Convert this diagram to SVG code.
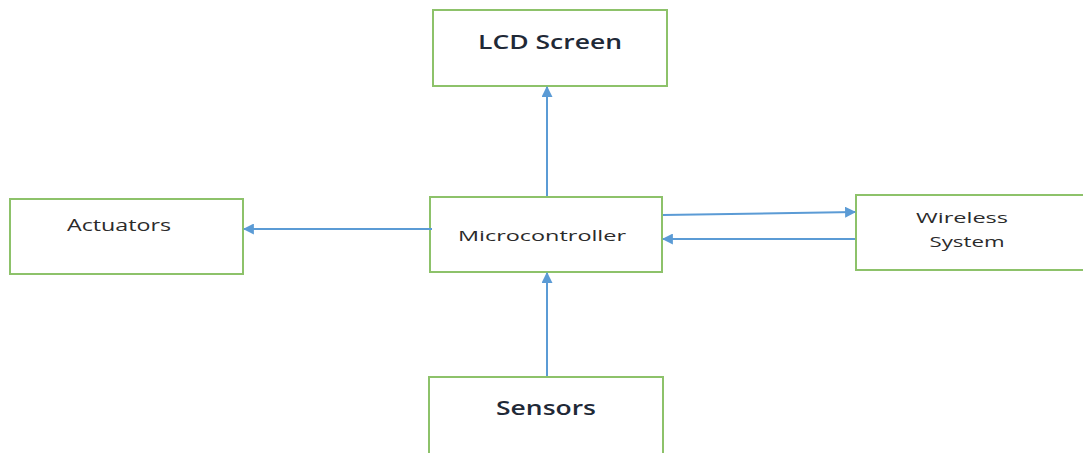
<svg xmlns="http://www.w3.org/2000/svg" width="1083" height="453" viewBox="0 0 1083 453">
  <style>
    .box { fill: #ffffff; stroke: #8dc26a; stroke-width: 2; }
    .lbl { font-family: "Open Sans", "Liberation Sans", sans-serif; fill: #2b2b2b; text-anchor: middle; }
    .big { font-size: 20px; font-weight: 600; fill: #1f2937; }
    .mid { font-size: 16px; }
    .sml { font-size: 15px; }
    .wire { stroke: #5b9bd5; stroke-width: 2; fill: none; marker-end: url(#arr); }
  </style>
  <defs>
    <marker id="arr" viewBox="0 0 10 10" refX="9" refY="5" markerWidth="11" markerHeight="11" markerUnits="userSpaceOnUse" orient="auto">
      <path d="M0,0 L10,5 L0,10 z" fill="#5b9bd5"/>
    </marker>
  </defs>
  <rect width="1083" height="453" fill="#ffffff"/>

  <g id="lcd">
    <rect class="box" x="433" y="10" width="234" height="76"/>
    <text class="lbl big" x="550" y="49" textLength="144" lengthAdjust="spacingAndGlyphs">LCD Screen</text>
  </g>
  <g id="actuators">
    <rect class="box" x="10" y="199" width="233" height="75"/>
    <text class="lbl mid" x="119" y="231" textLength="104" lengthAdjust="spacingAndGlyphs">Actuators</text>
  </g>
  <g id="microcontroller">
    <rect class="box" x="430" y="197" width="232" height="75"/>
    <text class="lbl sml" x="542" y="241" textLength="168" lengthAdjust="spacingAndGlyphs">Microcontroller</text>
  </g>
  <g id="wireless">
    <rect class="box" x="856" y="195" width="235" height="75"/>
    <text class="lbl sml" x="962" y="223" textLength="92" lengthAdjust="spacingAndGlyphs">Wireless</text>
    <text class="lbl sml" x="967" y="247" textLength="75" lengthAdjust="spacingAndGlyphs">System</text>
  </g>
  <g id="sensors">
    <rect class="box" x="429" y="377" width="234" height="82"/>
    <text class="lbl big" x="546" y="415" textLength="100" lengthAdjust="spacingAndGlyphs">Sensors</text>
  </g>

  <g id="connectors">
    <line class="wire" x1="547" y1="196" x2="547" y2="87"/>
    <line class="wire" x1="547" y1="376" x2="547" y2="273"/>
    <line class="wire" x1="432" y1="229" x2="244" y2="229"/>
    <line class="wire" x1="663" y1="215" x2="855" y2="212"/>
    <line class="wire" x1="855" y1="239" x2="663" y2="239"/>
  </g>
</svg>
